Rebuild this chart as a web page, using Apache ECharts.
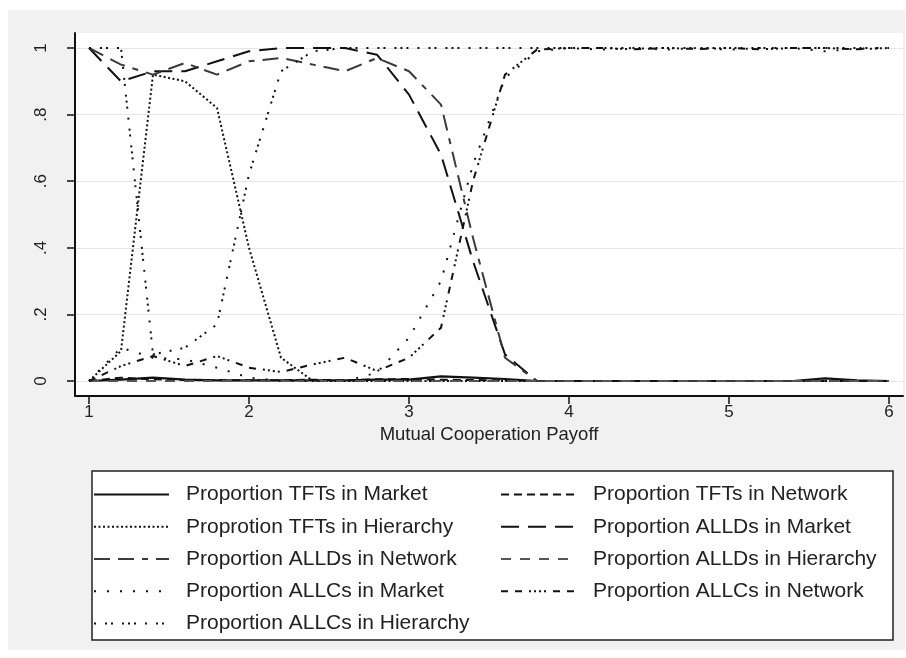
<!DOCTYPE html>
<html>
<head>
<meta charset="utf-8">
<script src="https://cdn.jsdelivr.net/npm/echarts@6/dist/echarts.min.js"></script>
<style>
  html, body { margin: 0; padding: 0; background: #ffffff; }
  #chart { width: 906px; height: 658px; }
</style>
</head>
<body>
<div id="chart"></div>
<script>
// Mutual cooperation payoff (x) at which each simulation was run
const payoff = [1.0, 1.2, 1.4, 1.6, 1.8, 2.0, 2.2, 2.4, 2.6, 2.8, 3.0, 3.2, 3.4,
                3.6, 3.8, 4.0, 4.2, 4.4, 4.6, 4.8, 5.0, 5.2, 5.4, 5.6, 5.8, 6.0];

// Share of each strategy within each organisational form
const tftMarket    = [0.000, 0.004, 0.010, 0.004, 0.002, 0.002, 0.002, 0.002, 0.002, 0.004, 0.004, 0.014, 0.010,
                      0.006, 0.000, 0.000, 0.000, 0.000, 0.000, 0.000, 0.000, 0.000, 0.000, 0.008, 0.002, 0.000];
const tftNetwork   = [0.000, 0.010, 0.005, 0.003, 0.002, 0.002, 0.002, 0.004, 0.002, 0.005, 0.006, 0.004, 0.003,
                      0.002, 0.000, 0.000, 0.000, 0.000, 0.000, 0.000, 0.000, 0.000, 0.000, 0.000, 0.000, 0.000];
const tftHierarchy = [0.000, 0.090, 0.920, 0.900, 0.820, 0.400, 0.070, 0.000, 0.000, 0.000, 0.000, 0.000, 0.000,
                      0.000, 0.000, 0.000, 0.000, 0.000, 0.000, 0.000, 0.000, 0.000, 0.000, 0.000, 0.000, 0.000];
const alldMarket   = [1.000, 0.900, 0.930, 0.930, 0.960, 0.990, 1.000, 1.000, 1.000, 0.980, 0.860, 0.680, 0.360,
                      0.080, 0.000, 0.000, 0.000, 0.000, 0.000, 0.000, 0.000, 0.000, 0.000, 0.000, 0.000, 0.000];
const alldNetwork  = [1.000, 0.950, 0.920, 0.955, 0.920, 0.960, 0.970, 0.950, 0.930, 0.970, 0.930, 0.830, 0.430,
                      0.070, 0.000, 0.000, 0.000, 0.000, 0.000, 0.000, 0.000, 0.000, 0.000, 0.000, 0.000, 0.000];
const alldHierarchy= [0.000, 0.000, 0.000, 0.000, 0.000, 0.000, 0.000, 0.000, 0.000, 0.000, 0.000, 0.000, 0.000,
                      0.000, 0.000, 0.000, 0.000, 0.000, 0.000, 0.000, 0.000, 0.000, 0.000, 0.000, 0.000, 0.000];
const allcMarket   = [0.000, 0.100, 0.070, 0.065, 0.040, 0.010, 0.000, 0.000, 0.000, 0.025, 0.130, 0.300, 0.650,
                      0.910, 0.990, 1.000, 0.995, 1.000, 0.995, 1.000, 0.995, 1.000, 1.000, 0.990, 0.998, 1.000];
const allcNetwork  = [0.000, 0.045, 0.075, 0.045, 0.075, 0.040, 0.027, 0.050, 0.070, 0.030, 0.070, 0.160, 0.600,
                      0.920, 0.995, 1.000, 1.000, 0.996, 1.000, 0.997, 1.000, 0.996, 1.000, 1.000, 0.996, 1.000];
const allcHierarchy= [1.000, 1.000, 0.080, 0.100, 0.170, 0.620, 0.930, 0.990, 1.000, 1.000, 1.000, 1.000, 1.000,
                      1.000, 1.000, 1.000, 1.000, 1.000, 1.000, 1.000, 1.000, 1.000, 1.000, 1.000, 1.000, 1.000];

const xTicks = [1, 2, 3, 4, 5, 6];
const yTicks = [0, 0.2, 0.4, 0.6, 0.8, 1];

const seriesDefs = [
  { name: 'Proportion TFTs in Market',      values: tftMarket,     color: '#111', dash: 'solid', width: 2.2 },
  { name: 'Proportion TFTs in Network',     values: tftNetwork,    color: '#111', dash: [8, 5] },
  { name: 'Proprotion TFTs in Hierarchy',   values: tftHierarchy,  color: '#111', dash: [2, 2.5] },
  { name: 'Proportion ALLDs in Market',     values: alldMarket,    color: '#111', dash: [18, 9] },
  { name: 'Proportion ALLDs in Network',    values: alldNetwork,   color: '#3a3a3a', dash: [16, 8, 16, 8, 6, 8] },
  { name: 'Proportion ALLDs in Hierarchy',  values: alldHierarchy, color: '#555', dash: [10, 9] },
  { name: 'Proportion ALLCs in Market',     values: allcMarket,    color: '#111', dash: [2, 11] },
  { name: 'Proportion ALLCs in Network',    values: allcNetwork,   color: '#111', dash: [7, 7, 7, 7, 2, 3, 2, 3, 2, 3, 2, 7] },
  { name: 'Proportion ALLCs in Hierarchy',  values: allcHierarchy, color: '#111', dash: [2, 9, 2, 4, 2, 9, 2, 4, 2, 4, 2, 9] }
];

const series = seriesDefs.map(d => ({
  name: d.name,
  type: 'line',
  data: payoff.map((x, i) => [x, d.values[i]]),
  showSymbol: false,
  symbol: 'none',
  silent: true,
  animation: false,
  itemStyle: { color: d.color },
  lineStyle: { color: d.color, width: d.width || 2, type: d.dash, cap: 'butt' }
}));

const fontFamily = 'Liberation Sans, Arial, sans-serif';

const legendText = {
  fontFamily: fontFamily,
  fontSize: 21,
  lineHeight: 20,
  color: '#222',
  padding: [0, 0, 0, 12]
};

// Legend keys show only the line pattern, no marker
const legendBase = {
  orient: 'vertical', top: 484, itemGap: 11.25, padding: 0,
  itemWidth: 75, itemHeight: 14, selectedMode: false,
  itemStyle: { color: 'rgba(0,0,0,0)', borderColor: 'rgba(0,0,0,0)', borderWidth: 0, opacity: 0 },
  textStyle: legendText
};

const yLabel = v => (v === 0 ? '0' : v === 1 ? '1' : '.' + Math.round(v * 10));

const chart = echarts.init(document.getElementById('chart'), null, { renderer: 'canvas' });
chart.setOption({
  animation: false,
  backgroundColor: '#ffffff',
  graphic: [
    { type: 'rect', z: -10, silent: true,
      shape: { x: 8, y: 10, width: 897, height: 640 },
      style: { fill: '#f1f1f1' } },
    { type: 'rect', z: -5, silent: true,
      shape: { x: 92, y: 471, width: 801, height: 169 },
      style: { fill: '#ffffff', stroke: '#222', lineWidth: 1.5 } }
  ],
  grid: {
    left: 75, right: 3, top: 33, bottom: 262,
    show: true, backgroundColor: '#ffffff', borderWidth: 0
  },
  xAxis: {
    type: 'value',
    min: 0.9125, max: 6.0875,
    name: 'Mutual Cooperation Payoff',
    nameLocation: 'middle',
    nameGap: 28,
    nameTextStyle: { fontFamily: fontFamily, fontSize: 18.5, color: '#222' },
    axisLine: { show: true, onZero: false, lineStyle: { color: '#111', width: 2 } },
    axisTick: { show: true, length: 8, customValues: xTicks, lineStyle: { color: '#111', width: 1.5 } },
    axisLabel: { customValues: xTicks, margin: 8, fontFamily: fontFamily, fontSize: 17, color: '#222' },
    splitLine: { show: false }
  },
  yAxis: {
    type: 'value',
    min: -0.045, max: 1.045,
    axisLine: { show: true, onZero: false, lineStyle: { color: '#111', width: 2 } },
    axisTick: { show: true, length: 8, customValues: yTicks, lineStyle: { color: '#111', width: 1.5 } },
    axisLabel: { customValues: yTicks, rotate: 90, margin: 25, formatter: yLabel,
                 fontFamily: fontFamily, fontSize: 17, color: '#222' },
    splitLine: { show: true, customValues: yTicks, lineStyle: { color: '#e6e6e6', width: 1.2 } }
  },
  legend: [
    Object.assign({}, legendBase, {
      left: 93,
      data: ['Proportion TFTs in Market', 'Proprotion TFTs in Hierarchy', 'Proportion ALLDs in Network',
             'Proportion ALLCs in Market', 'Proportion ALLCs in Hierarchy']
    }),
    Object.assign({}, legendBase, {
      left: 500,
      data: ['Proportion TFTs in Network', 'Proportion ALLDs in Market', 'Proportion ALLDs in Hierarchy',
             'Proportion ALLCs in Network']
    })
  ],
  series: series
});
</script>
</body>
</html>
